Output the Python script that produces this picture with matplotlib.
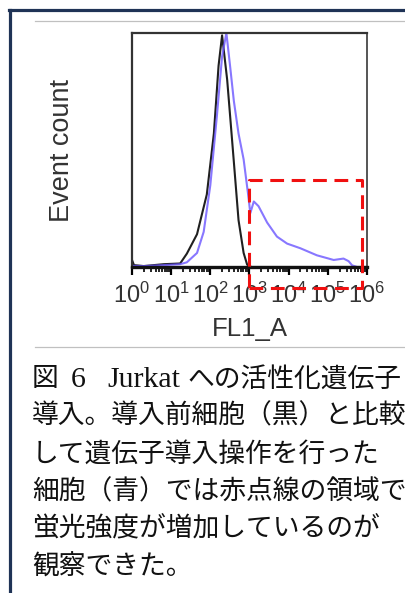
import numpy as np
import matplotlib
matplotlib.use('Agg')
import matplotlib.pyplot as plt
from matplotlib.lines import Line2D

plt.rcParams['mathtext.fontset'] = 'custom'
plt.rcParams['mathtext.rm'] = 'Liberation Sans'
plt.rcParams['mathtext.it'] = 'Liberation Sans'

# histogram outlines (log10 FL1_A, relative count)
black_log = [0.0, 0.05, 0.3, 0.81, 1.23, 1.40, 1.66, 1.91, 2.09, 2.21, 2.30,
             2.43, 2.60, 2.72, 2.85, 2.94, 3.05, 6.0]
black_cnt = [0.03, 0.008, 0.004, 0.012, 0.015, 0.057, 0.14, 0.31, 0.57, 0.86, 0.99,
             0.80, 0.45, 0.20, 0.06, 0.01, 0.0, 0.0]

blue_log = [0.0, 0.3, 0.81, 1.23, 1.40, 1.66, 1.83, 2.00, 2.17, 2.30, 2.41,
            2.51, 2.60, 2.72, 2.85, 2.98, 3.02, 3.11, 3.23, 3.45, 3.70, 3.96,
            4.30, 4.72, 5.15, 5.40, 5.53, 5.62, 5.75, 6.0]
blue_cnt = [0.005, 0.004, 0.008, 0.012, 0.02, 0.06, 0.15, 0.35, 0.65, 0.90, 1.0,
            0.85, 0.71, 0.57, 0.46, 0.29, 0.23, 0.28, 0.26, 0.19, 0.13, 0.10,
            0.08, 0.05, 0.03, 0.036, 0.025, 0.007, 0.0, 0.0]

# gate drawn as red dashed box
gate_x = [1e3, 10 ** 5.87]
gate_y = [-0.09, 0.37]

decades = [0, 1, 2, 3, 4, 5, 6]

# first caption line is set in pieces (wide gaps in the original)
caption_head = [('図', 32, 19.3), ('6', 71, 21.5), ('Jurkat', 107, 21.5),
                ('への活性化遺伝子', 188, 19.3)]
caption = ['導入。導入前細胞（黒）と比較',
           'して遺伝子導入操作を行った',
           '細胞（青）では赤点線の領域で',
           '蛍光強度が増加しているのが',
           '観察できた。']

fig = plt.figure(figsize=(4.06, 5.93), dpi=100)
W, H = 406, 593

# page decorations: navy border and gray rules
fig.add_artist(Line2D([10.5 / W, 10.5 / W], [0, 1 - 9.5 / H], color='#1f3356', lw=2.3))
fig.add_artist(Line2D([9.5 / W, 1], [1 - 9.5 / H, 1 - 9.5 / H], color='#1f3356', lw=2.3))
fig.add_artist(Line2D([35 / W, 1], [1 - 21 / H, 1 - 21 / H], color='#c0c0c0', lw=0.9))
fig.add_artist(Line2D([35 / W, 1], [1 - 347 / H, 1 - 347 / H], color='#c0c0c0', lw=0.9))

ax = fig.add_axes([132 / W, 1 - 267 / H, 235 / W, 234 / H])
ax.plot(10 ** np.array(black_log), black_cnt, color='#202020', lw=1.5)
ax.plot(10 ** np.array(blue_log), blue_cnt, color='#6a55ff', lw=1.5, alpha=0.8)

ax.set_xscale('log')
ax.set_xlim(1, 1e6)
ax.set_ylim(0, 1.0)
ax.set_yticks([])
ax.set_xticks([10 ** d for d in decades])
ax.set_xticklabels([r'$\mathregular{10^{%d}}$' % d for d in decades],
                   fontsize=17, color='#333333', family='Liberation Sans')
ax.xaxis.set_minor_locator(matplotlib.ticker.LogLocator(base=10, subs=np.arange(2, 10), numticks=20))
ax.xaxis.set_minor_formatter(matplotlib.ticker.NullFormatter())
ax.tick_params(axis='x', which='major', direction='out', length=6, width=1.6, pad=5)
ax.tick_params(axis='x', which='minor', direction='out', length=3.5, width=1.2)

for side in ['left', 'top']:
    ax.spines[side].set_linewidth(1.6)
    ax.spines[side].set_color('#333333')
ax.spines['right'].set_linewidth(1.4)
ax.spines['right'].set_color('#555555')
ax.spines['bottom'].set_linewidth(2.4)
ax.spines['bottom'].set_color('#111111')

ax.plot([gate_x[0], gate_x[1], gate_x[1], gate_x[0], gate_x[0]],
        [gate_y[0], gate_y[0], gate_y[1], gate_y[1], gate_y[0]],
        color='#f01010', lw=2.2, linestyle=(0, (4.5, 2.5)), clip_on=False, zorder=5)

ax.set_xlabel('FL1_A', fontsize=18.5, color='#333333', family='Liberation Sans', labelpad=7)
ax.set_ylabel('Event count', fontsize=19.5, color='#333333', family='Liberation Sans', labelpad=41)

for txt, x, fs in caption_head:
    fig.text(x / W, 1 - 380 / H, txt, fontsize=fs, va='center', ha='left', color='#111111',
             family=['Liberation Serif', 'Noto Sans CJK JP'])

ys = [417, 455, 493, 530, 568]
for line, y in zip(caption, ys):
    fig.text(32 / W, 1 - y / H, line, fontsize=19.3, va='center', ha='left', color='#111111',
             family=['Liberation Serif', 'Noto Sans CJK JP'])

fig.savefig('out.png', dpi=100)
